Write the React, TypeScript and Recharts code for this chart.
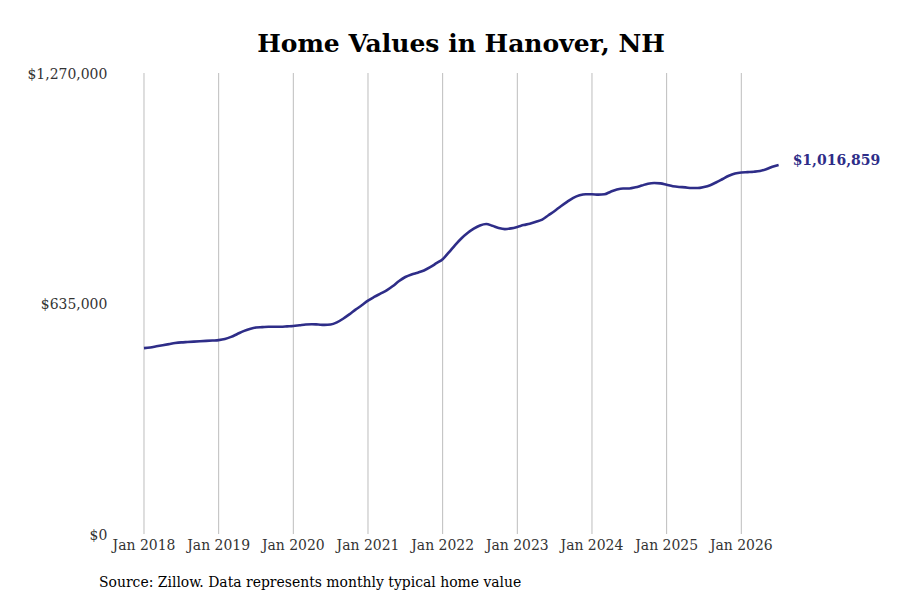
import React from "react";
import { LineChart, Line, XAxis, YAxis, CartesianGrid } from "recharts";

const TITLE = "Home Values in Hanover, NH";
const SOURCE = "Source: Zillow. Data represents monthly typical home value";
const START_YEAR = 2018;
const TICK_YEARS = [2018, 2019, 2020, 2021, 2022, 2023, 2024, 2025, 2026];
const Y_TICKS = [0, 635000, 1270000];

const values2018 = [512000, 514000, 517000, 520000, 523000, 526000, 528000, 529000, 530000, 531000, 532000, 533000];
const values2019 = [534000, 537000, 543000, 551000, 559000, 565000, 569000, 570000, 571000, 571000, 571000, 572000];
const values2020 = [573000, 575000, 577000, 578000, 577000, 576000, 577000, 583000, 593000, 605000, 618000, 630000];
const values2021 = [643000, 653000, 662000, 671000, 683000, 697000, 708000, 715000, 720000, 726000, 735000, 746000];
const values2022 = [757000, 776000, 796000, 814000, 829000, 841000, 850000, 854000, 849000, 843000, 840000, 842000];
const values2023 = [846000, 851000, 855000, 860000, 866000, 878000, 890000, 903000, 915000, 926000, 933000, 936000];
const values2024 = [936000, 935000, 936000, 943000, 949000, 952000, 952000, 955000, 960000, 965000, 967000, 966000];
const values2025 = [962000, 958000, 956000, 955000, 953000, 953000, 956000, 961000, 969000, 978000, 987000, 993000];
const values2026 = [996000, 997000, 998000, 1000000, 1005000, 1012000, 1016859];

const allValues = [
  ...values2018, ...values2019, ...values2020, ...values2021, ...values2022,
  ...values2023, ...values2024, ...values2025, ...values2026,
];

const data = allValues.map((v, i) => ({ m: i, value: v }));
const xTicks = TICK_YEARS.map((y) => (y - START_YEAR) * 12);

const LINE_COLOR = "#2e2d88";
const FONT = "'DejaVu Serif Condensed', 'DejaVu Serif', serif";

const fmtMoney = (v: number) => "$" + v.toLocaleString("en-US");

const EndLabel = (props: any) => {
  const { x, y, index } = props;
  if (index !== data.length - 1) return null;
  return (
    <text
      x={x + 14}
      y={y - 5}
      dominantBaseline="central"
      fill={LINE_COLOR}
      fontFamily="'DejaVu Serif', serif"
      fontWeight="bold"
      fontSize={14}
    >
      {fmtMoney(allValues[allValues.length - 1])}
    </text>
  );
};

export default function App() {
  return (
    <div style={{ position: "absolute", left: 0, top: 0, width: 900, height: 600, background: "#fff" }}>
      <div
        style={{
          position: "absolute",
          left: 0,
          width: 922,
          top: 27,
          textAlign: "center",
          fontFamily: "'DejaVu Serif', serif",
          fontWeight: "bold",
          fontSize: 25,
          color: "#000",
          lineHeight: "34px",
        }}
      >
        {TITLE}
      </div>
      <LineChart
        width={900}
        height={600}
        data={data}
        margin={{ top: 73, right: 102.7, bottom: 36, left: 25.33 }}
      >
        <CartesianGrid vertical={true} horizontal={false} stroke="#bdbdbd" verticalValues={xTicks} />
        <XAxis
          dataKey="m"
          type="number"
          domain={[-3, 105]}
          ticks={xTicks}
          tickFormatter={(v: number) => "Jan " + (START_YEAR + v / 12)}
          axisLine={false}
          tickLine={false}
          tickSize={0}
          tickMargin={5}
          interval={0}
          tick={{ fill: "#333", fontSize: 15.5, fontFamily: FONT }}
          height={30}
        />
        <YAxis
          type="number"
          domain={[0, 1270000]}
          ticks={Y_TICKS}
          tickFormatter={fmtMoney}
          axisLine={false}
          tickLine={false}
          tickSize={0}
          tickMargin={18}
          width={100}
          interval={0}
          tick={{ fill: "#333", fontSize: 15.5, fontFamily: FONT }}
        />
        <Line
          type="monotone"
          dataKey="value"
          stroke={LINE_COLOR}
          strokeWidth={2.6}
          dot={false}
          isAnimationActive={false}
          label={EndLabel}
        />
      </LineChart>
      <div
        style={{
          position: "absolute",
          left: 99,
          top: 571,
          fontFamily: FONT,
          fontSize: 15.5,
          color: "#000",
          lineHeight: "22px",
          whiteSpace: "nowrap",
        }}
      >
        {SOURCE}
      </div>
    </div>
  );
}
